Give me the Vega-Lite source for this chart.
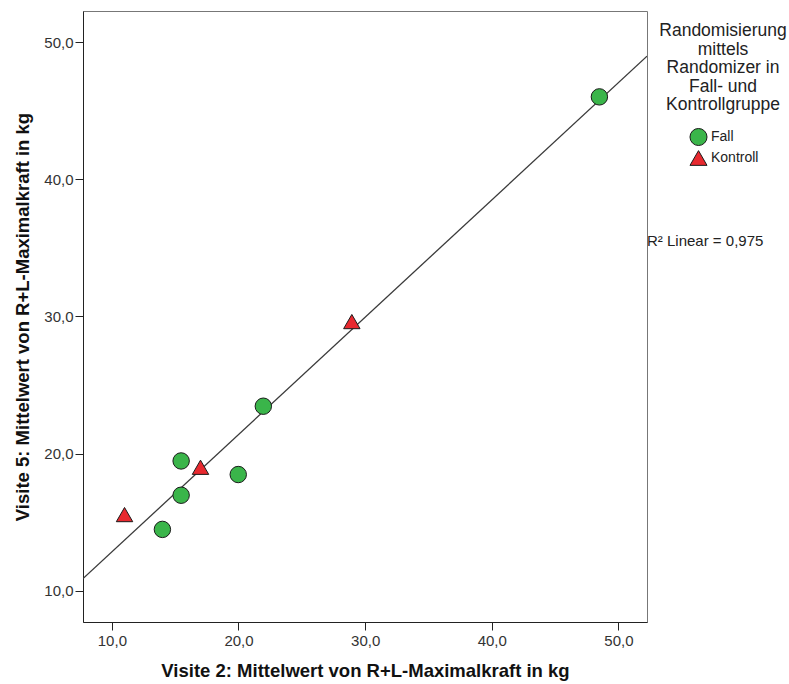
{
  "$schema": "https://vega.github.io/schema/vega-lite/v6.json",
  "width": 564,
  "height": 611,
  "autosize": {"type": "none"},
  "padding": {"left": 83, "top": 11, "right": 142, "bottom": 62},
  "background": "white",
  "config": {
    "font": "Liberation Sans",
    "view": {"stroke": "#777777", "strokeWidth": 1},
    "axis": {
      "grid": false,
      "domainColor": "#222222",
      "tickColor": "#222222",
      "tickSize": 8,
      "labelFont": "Liberation Sans",
      "labelFontSize": 15,
      "labelColor": "#333333",
      "titleFont": "Liberation Sans",
      "titleFontSize": 18.5,
      "titleFontWeight": "bold",
      "titleColor": "#111111"
    }
  },
  "data": {
    "values": [
      {"v2": 48.5, "v5": 46.0, "gruppe": "Fall"},
      {"v2": 21.96, "v5": 23.45, "gruppe": "Fall"},
      {"v2": 15.47, "v5": 19.46, "gruppe": "Fall"},
      {"v2": 19.98, "v5": 18.47, "gruppe": "Fall"},
      {"v2": 15.47, "v5": 16.96, "gruppe": "Fall"},
      {"v2": 13.99, "v5": 14.47, "gruppe": "Fall"},
      {"v2": 28.95, "v5": 29.62, "gruppe": "Kontroll"},
      {"v2": 17.0, "v5": 19.0, "gruppe": "Kontroll"},
      {"v2": 11.0, "v5": 15.55, "gruppe": "Kontroll"}
    ]
  },
  "layer": [
    {
      "transform": [
        {"regression": "v5", "on": "v2", "method": "linear", "extent": [7.72, 52.26]}
      ],
      "mark": {"type": "line", "color": "#3a3a3a", "strokeWidth": 1.3, "clip": true},
      "encoding": {
        "x": {"field": "v2", "type": "quantitative"},
        "y": {"field": "v5", "type": "quantitative"}
      }
    },
    {
      "mark": {"type": "point", "filled": true, "opacity": 1, "stroke": "#1a1a1a", "strokeWidth": 1, "size": 270},
      "encoding": {
        "x": {
          "field": "v2",
          "type": "quantitative",
          "scale": {"domain": [7.72, 52.26], "nice": false, "zero": false},
          "axis": {
            "title": "Visite 2: Mittelwert von R+L-Maximalkraft in kg",
            "values": [10, 20, 30, 40, 50],
            "labelExpr": "replace(format(datum.value, '.1f'), '.', ',')",
            "labelPadding": 3,
            "titlePadding": 13
          }
        },
        "y": {
          "field": "v5",
          "type": "quantitative",
          "scale": {"domain": [7.72, 52.26], "nice": false, "zero": false},
          "axis": {
            "title": "Visite 5: Mittelwert von R+L-Maximalkraft in kg",
            "values": [10, 20, 30, 40, 50],
            "labelExpr": "replace(format(datum.value, '.1f'), '.', ',')",
            "labelPadding": 2,
            "titlePadding": 11
          }
        },
        "color": {
          "field": "gruppe",
          "type": "nominal",
          "scale": {"domain": ["Fall", "Kontroll"], "range": ["#3AB54A", "#E8292F"]},
          "legend": {
            "title": ["Randomisierung", "mittels", "Randomizer in", "Fall- und", "Kontrollgruppe"],
            "orient": "none",
            "legendX": 576,
            "legendY": 11,
            "titleFont": "Liberation Sans",
            "titleFontSize": 17.5,
            "titleFontWeight": "normal",
            "titleColor": "#222222",
            "titleAlign": "center",
            "titleAnchor": "middle",
            "titleLineHeight": 18.5,
            "titlePadding": 14,
            "labelFont": "Liberation Sans",
            "labelFontSize": 14,
            "labelColor": "#222222",
            "labelOffset": 3,
            "symbolSize": 290,
            "symbolOffset": 1,
            "symbolStrokeColor": "#1a1a1a",
            "symbolStrokeWidth": 1,
            "rowPadding": 0
          }
        },
        "shape": {
          "field": "gruppe",
          "type": "nominal",
          "scale": {"domain": ["Fall", "Kontroll"], "range": ["circle", "triangle-up"]}
        }
      }
    },
    {
      "data": {"values": [{"label": "R² Linear = 0,975"}]},
      "mark": {"type": "text", "align": "left", "baseline": "middle", "font": "Liberation Sans", "fontSize": 15, "color": "#222222", "clip": false},
      "encoding": {
        "x": {"datum": 52.26, "type": "quantitative"},
        "y": {"datum": 35.5, "type": "quantitative"},
        "text": {"field": "label"}
      }
    }
  ]
}
